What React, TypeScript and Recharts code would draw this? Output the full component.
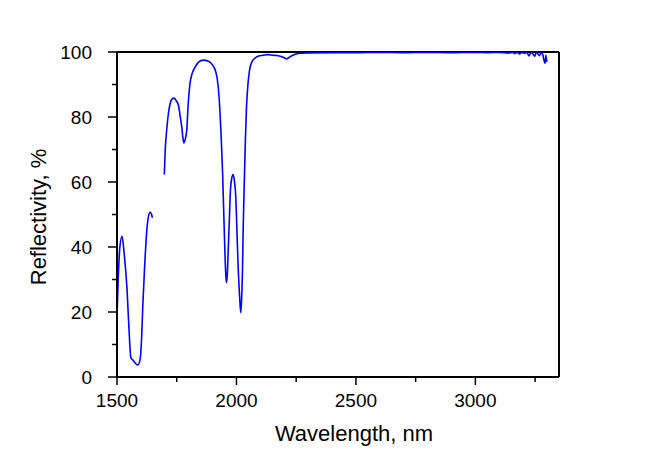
import React from 'react';
import { LineChart, Line, XAxis, YAxis, ReferenceLine } from 'recharts';

const wavelengths: (number)[] = [
  1500, 1505, 1512, 1521, 1530, 1542, 1550, 1558, 1569, 1580, 1587, 1597, 1603, 1608, 1615, 1625, 1632, 1639, 1645, 1648,
  1670,
  1698, 1702, 1708, 1715, 1722, 1730, 1739, 1748, 1757, 1765, 1771, 1776, 1780, 1785, 1792, 1798, 1805, 1815, 1826, 1840,
  1861, 1880, 1896, 1906, 1913, 1919, 1924, 1930, 1936, 1942, 1947, 1951, 1955, 1958, 1962, 1965, 1970, 1975, 1980, 1986, 1992,
  1997, 2002, 2007, 2013, 2018, 2021, 2025, 2028, 2032, 2037, 2042, 2048, 2055, 2065, 2076, 2090, 2111, 2130, 2153, 2170,
  2187, 2200, 2211, 2222, 2236, 2250, 2264, 2300, 2400, 2500, 2600, 2700, 2800, 2900, 3000, 3050, 3100, 3140, 3155, 3165,
  3175, 3185, 3195, 3205, 3215, 3225, 3232, 3240, 3248, 3255, 3262, 3268, 3275, 3282, 3288, 3292, 3295, 3298, 3301,
];

const reflectivity: (number | null)[] = [
  18.8, 30, 40, 43.3, 38, 27, 15, 6, 5, 4, 3.7, 5.5, 12, 21.9, 33, 45.4, 49.5, 50.7, 50, 49,
  null,
  62.3, 70, 76, 81, 84, 85.5, 85.8, 85, 83.7, 80, 77, 73.5, 72, 73, 76, 84, 90, 93.5, 95.2, 96.8,
  97.5, 97.2, 96.4, 95.3, 94, 92, 89, 83, 74, 62.8, 50, 40, 32, 29, 32, 38, 48, 57.7, 61, 62.3, 60,
  55.6, 45, 34, 25, 19.8, 23, 32, 45, 57.7, 72, 83, 90, 94.5, 97, 98, 98.7, 99, 99.2, 99, 98.9,
  98.6, 98.2, 97.9, 98.4, 99, 99.4, 99.6, 99.7, 99.8, 99.8, 99.9, 99.8, 99.9, 99.8, 99.9, 99.8, 99.9, 99.7, 99.9, 99.5,
  99.9, 99.4, 99.9, 99.6, 99.9, 98.8, 99.9, 99.5, 98.7, 99.9, 99.4, 98.9, 99.9, 99.2, 97.2, 96.5, 99.0, 97.5, 97.0,
];

const xTicks = [1500, 1750, 2000, 2250, 2500, 2750, 3000, 3250];
const xMajor = [1500, 2000, 2500, 3000];
const yTicks = [0, 10, 20, 30, 40, 50, 60, 70, 80, 90, 100];
const yMajor = [0, 20, 40, 60, 80, 100];

const xTitle = 'Wavelength, nm';
const yTitle = 'Reflectivity, %';

const data = wavelengths.map((w, i) => ({ w, r: reflectivity[i] }));

const FONT = '"Liberation Sans", Arial, sans-serif';

const XTick = (props: any) => {
  const { x, y, payload } = props;
  const major = xMajor.includes(payload.value);
  return (
    <g>
      <line x1={x} x2={x} y1={y} y2={y + (major ? 8 : 5)} stroke="#000" strokeWidth={1.5} />
      {major && (
        <text x={x} y={y + 29.5} textAnchor="middle" fontSize={19} fontFamily={FONT} fill="#000">
          {payload.value}
        </text>
      )}
    </g>
  );
};

const YTick = (props: any) => {
  const { x, y, payload } = props;
  const major = yMajor.includes(payload.value);
  return (
    <g>
      <line x1={x} x2={x - (major ? 9 : 5)} y1={y} y2={y} stroke="#000" strokeWidth={1.5} />
      {major && (
        <text x={x - 25} y={y + 6.8} textAnchor="end" fontSize={19} fontFamily={FONT} fill="#000">
          {payload.value}
        </text>
      )}
    </g>
  );
};

export default function App() {
  return (
    <div style={{ position: 'absolute', left: 0, top: 0, width: 650, height: 453, background: '#fff' }}>
      <LineChart width={650} height={453} data={data} margin={{ top: 52, right: 91, bottom: 0, left: 0 }}>
        <XAxis
          dataKey="w"
          type="number"
          domain={[1500, 3350]}
          ticks={xTicks}
          interval={0}
          tickSize={0}
          tickMargin={0}
          tickLine={false}
          tick={<XTick />}
          axisLine={{ stroke: '#000', strokeWidth: 2 }}
          height={76}
          allowDataOverflow
          label={{
            content: () => (
              <text x={354} y={441} textAnchor="middle" fontSize={22} fontFamily={FONT} fill="#000">
                {xTitle}
              </text>
            ),
          }}
        />
        <YAxis
          type="number"
          domain={[0, 100]}
          ticks={yTicks}
          interval={0}
          tickSize={0}
          tickMargin={0}
          tickLine={false}
          tick={<YTick />}
          axisLine={{ stroke: '#000', strokeWidth: 2 }}
          width={117}
          allowDataOverflow
          label={{
            content: () => (
              <text
                x={46}
                y={217}
                textAnchor="middle"
                fontSize={22}
                fontFamily={FONT}
                fill="#000"
                transform="rotate(-90, 46, 217)"
              >
                {yTitle}
              </text>
            ),
          }}
        />
        <ReferenceLine y={100} stroke="#000" strokeWidth={2} />
        <ReferenceLine x={3350} stroke="#000" strokeWidth={2} />
        <Line
          dataKey="r"
          type="monotone"
          stroke="#0000ff"
          strokeWidth={1.6}
          dot={false}
          connectNulls={false}
          isAnimationActive={false}
        />
      </LineChart>
    </div>
  );
}
